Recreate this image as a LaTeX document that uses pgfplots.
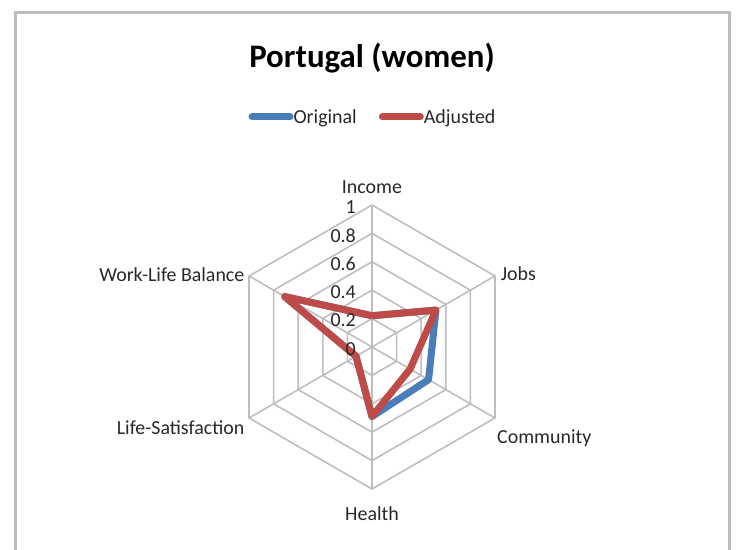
\documentclass[border=0pt]{standalone}
\usepackage{pgfplots}
\pgfplotsset{compat=1.18}
\usepgfplotslibrary{polar}
\usepackage{fontspec}
\setmainfont{Carlito}
\definecolor{origblue}{RGB}{74,126,187}
\definecolor{adjred}{RGB}{190,75,72}
\definecolor{gridgray}{RGB}{190,190,190}
\definecolor{txt}{RGB}{40,40,40}
\begin{document}
\begin{tikzpicture}[x=1bp,y=1bp]
\useasboundingbox (0,0) rectangle (738,550);
\draw[gridgray, line width=3bp] (15,-5) -- (15,537) -- (729,537) -- (729,-5);
\node[font=\bfseries\fontsize{33}{36}\selectfont] at (372,492) {Portugal (women)};
\begin{polaraxis}[
  at={(372bp,203bp)}, anchor=center,
  scale only axis, width=284bp, height=284bp,
  xmin=0, xmax=360, ymin=0, ymax=1,
  axis line style={draw=none},
  xtick=\empty, ytick=\empty,
  clip=false,
  legend columns=2,
  legend style={at={(0.5,1.31)}, anchor=center, draw=none, fill=none,
    font=\fontsize{20}{22}\selectfont, text=txt,
    nodes={inner xsep=0bp},
    /tikz/every odd column/.append style={column sep=0bp},
    /tikz/every even column/.append style={column sep=22bp}},
  legend image code/.code={\draw[#1, line width=7bp, line cap=round] (0bp,0bp) -- (38bp,0bp);},
]
% hexagonal grid
\foreach \r in {0.2,0.4,0.6,0.8,1} {
  \edef\tmp{\noexpand\addplot[gridgray, line width=1.6bp, forget plot] coordinates {(90,\r) (30,\r) (-30,\r) (-90,\r) (-150,\r) (150,\r) (90,\r)};}
  \tmp
}
\foreach \a in {90,30,-30,-90,-150,150} {
  \edef\tmp{\noexpand\addplot[gridgray, line width=1.6bp, forget plot] coordinates {(\a,0) (\a,1)};}
  \tmp
}
\addplot[origblue, line width=7bp, line join=round] coordinates {
  (90,0.22) (30,0.52) (-30,0.46) (-90,0.49) (-150,0.13) (150,0.71) (90,0.22)};
\addlegendentry{Original}
\addplot[adjred, line width=7bp, line join=round] coordinates {
  (90,0.22) (30,0.52) (-30,0.31) (-90,0.49) (-150,0.13) (150,0.71) (90,0.22)};
\addlegendentry{Adjusted}
% radial tick labels
\foreach \r/\l in {0/0,0.2/0.2,0.4/0.4,0.6/0.6,0.8/0.8,1/1} {
  \edef\tmp{\noexpand\node[anchor=east, text=txt, font=\noexpand\fontsize{20}{22}\noexpand\selectfont, xshift=-15bp, yshift=-2bp, inner sep=1bp] at (axis cs:90,\r) {\l};}
  \tmp
}
\node[anchor=south, text=txt, font=\fontsize{20}{22}\selectfont, inner sep=1bp] at (axis cs:90,1.07) {Income};
\node[anchor=west, text=txt, font=\fontsize{20}{22}\selectfont, inner sep=2bp] at (axis cs:30,1.03) {Jobs};
\node[anchor=west, text=txt, font=\fontsize{20}{22}\selectfont, inner sep=2bp, yshift=-20bp] at (axis cs:-30,1.0) {Community};
\node[anchor=north, text=txt, font=\fontsize{20}{22}\selectfont, inner sep=2bp] at (axis cs:-90,1.11) {Health};
\node[anchor=east, text=txt, font=\fontsize{20}{22}\selectfont, inner sep=2bp, yshift=-8bp] at (axis cs:-150,1.02) {Life-Satisfaction};
\node[anchor=east, text=txt, font=\fontsize{20}{22}\selectfont, inner sep=2bp] at (axis cs:150,1.02) {Work-Life Balance};
\end{polaraxis}
\end{tikzpicture}
\end{document}
